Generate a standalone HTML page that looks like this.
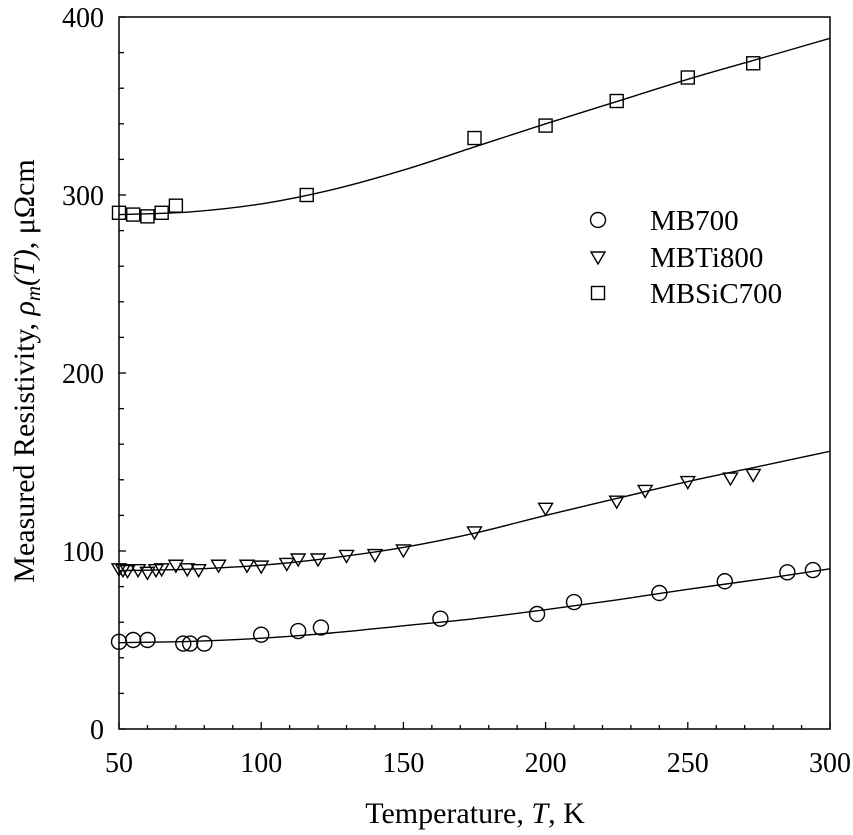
<!DOCTYPE html>
<html><head><meta charset="utf-8"><style>
html,body{margin:0;padding:0;background:#fff;}
svg{display:block;font-family:"Liberation Serif",serif;}
</style></head><body>
<svg id="chart" width="853" height="835" viewBox="0 0 853 835"></svg>
<script>
const xTicks=[50,100,150,200,250,300];
const yTicks=[0,100,200,300,400];
const mbT=[50,55,60,72.6,75,80,100,113,121,163,197,210,240,263,285,294];
const mbR=[49,50,50,48,48,48,53,55,57,62,64.6,71.3,76.4,83,88,89.3];
const tiT=[50,51.4,53,56.7,60,63,65,70,74,78,85,95,100,109,113,120,130,140,150,175,200,225,235,250,265,273];
const tiR=[90,89.5,89,89.5,88,89.5,90,92,90,89.5,92,92,91.5,93,95.5,95.5,97.5,98,100.6,110.7,124,128,134,139,141,143];
const sicT=[50,55,60,65,70,116,175,200,225,250,273];
const sicR=[290,289,288,290,294,300,332,339,352.8,366,374];
const fitT=[50,75,100,125,150,175,200,225,250,275,300];
const mbFit=[48.5,49.2,51,54,58,62,67,72.5,78.5,84,90];
const tiFit=[89,89.8,92,96.2,102,110,120,129.5,139,147.5,156];
const sicFit=[289,290.5,295,303,314,327,340,352.5,365,376.5,388];

const X0=119,X1=830,Y0=729,Y1=17;
const sx=t=>X0+(t-50)*(X1-X0)/250;
const sy=v=>Y0-v*(Y0-Y1)/400;
const svg=document.getElementById('chart');
const NS='http://www.w3.org/2000/svg';
function mk(tag,attrs,parent){const e=document.createElementNS(NS,tag);for(const k in attrs)e.setAttribute(k,attrs[k]);(parent||svg).appendChild(e);return e;}

const box=mk('rect',{x:X0,y:Y1,width:X1-X0,height:Y0-Y1,fill:'none',stroke:'#000','stroke-width':1.5});



for(let t=50;t<=300;t+=10){
  const major=(t%50===0);
  const l=mk('line',{x1:sx(t),x2:sx(t),y1:Y0,y2:Y0-(major?7:4),stroke:'#000','stroke-width':1.3});
  
  
}
xTicks.forEach(t=>{
  const tx=mk('text',{x:sx(t),y:772,'text-anchor':'middle','font-size':28});
  tx.textContent=t;
  
  
});
for(let v=0;v<=400;v+=20){
  const major=(v%100===0);
  const l=mk('line',{x1:X0,x2:X0+(major?7:5),y1:sy(v),y2:sy(v),stroke:'#000','stroke-width':1.3});
  
  
}
yTicks.forEach(v=>{
  const tx=mk('text',{x:104,y:sy(v)+10,'text-anchor':'end','font-size':28});
  tx.textContent=v;
  
  
});

const xt=mk('text',{x:475,y:823,'text-anchor':'middle','font-size':30});
xt.innerHTML='Temperature, <tspan font-style="italic">T</tspan>, K';


const yt=mk('text',{x:0,y:0,'text-anchor':'middle','font-size':30,transform:'translate(34,371) rotate(-90)'});
yt.innerHTML='Measured Resistivity, <tspan font-style="italic">ρ</tspan><tspan font-style="italic" font-size="21" dy="6">m</tspan><tspan dy="-6" font-style="italic">(T)</tspan>, μΩcm';



function curve(vals,name){
  const pts=fitT.map((t,i)=>[sx(t),sy(vals[i])]);
  let d='M'+pts[0][0]+','+pts[0][1];
  for(let i=0;i<pts.length-1;i++){
    const p0=pts[Math.max(0,i-1)],p1=pts[i],p2=pts[i+1],p3=pts[Math.min(pts.length-1,i+2)];
    const c1=[p1[0]+(p2[0]-p0[0])/6,p1[1]+(p2[1]-p0[1])/6];
    const c2=[p2[0]-(p3[0]-p1[0])/6,p2[1]-(p3[1]-p1[1])/6];
    d+=' C'+c1+' '+c2+' '+p2;
  }
  const p=mk('path',{d:d,fill:'none',stroke:'#000','stroke-width':1.4});
  
  
}
curve(mbFit,'mb700-fit-line');
curve(tiFit,'mbti800-fit-line');
curve(sicFit,'mbsic700-fit-line');

function circle(x,y,name){const e=mk('circle',{cx:x,cy:y,r:7.5,fill:'none',stroke:'#000','stroke-width':1.4});
  
  }
function tri(x,y,name){const e=mk('path',{d:`M${x-7},${y-5} L${x+7},${y-5} L${x},${y+7} Z`,fill:'none',stroke:'#000','stroke-width':1.4});
  
  }
function sq(x,y,name){const e=mk('rect',{x:x-6.5,y:y-6.5,width:13,height:13,fill:'none',stroke:'#000','stroke-width':1.4});
  
  }
mbT.forEach((t,i)=>circle(sx(t),sy(mbR[i]),'mb700-point'));
tiT.forEach((t,i)=>tri(sx(t),sy(tiR[i]),'mbti800-point'));
sicT.forEach((t,i)=>sq(sx(t),sy(sicR[i]),'mbsic700-point'));

const lg=[['MB700',circle,220],['MBTi800',tri,257],['MBSiC700',sq,293]];
lg.forEach(([lab,fn,y])=>{
  fn(598,y,'legend-marker');
  const tx=mk('text',{x:650,y:y+10,'font-size':29});
  tx.textContent=lab;
  
  
});
</script>
</body></html>
